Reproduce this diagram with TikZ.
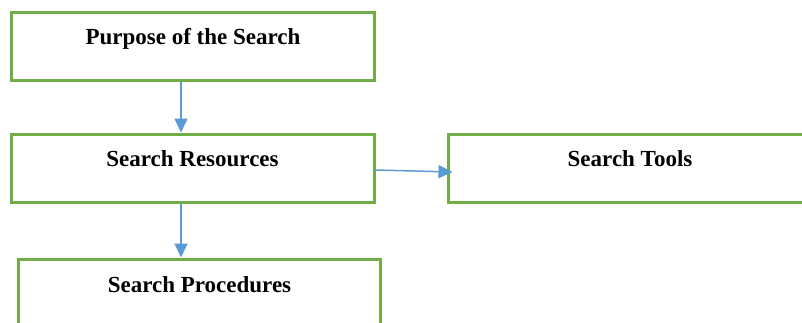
\documentclass[tikz,border=0pt]{standalone}
\usepackage{fontspec}
\setmainfont{Liberation Serif}
\usetikzlibrary{arrows.meta}
\definecolor{boxgreen}{HTML}{70AD47}
\definecolor{arrblue}{HTML}{5B9BD5}
\tikzset{
  box/.style={draw=boxgreen, line width=3pt, rectangle, inner sep=0pt, minimum height=68pt},
  lbl/.style={anchor=base, inner sep=0pt, font=\bfseries\fontsize{23}{27}\selectfont},
  arr/.style={draw=arrblue, line width=1.5pt, -{Triangle[length=14pt,width=13pt]}}
}
\begin{document}
\begin{tikzpicture}[x=1pt,y=-1pt]
\useasboundingbox (0,0) rectangle (802,322);
\clip (0,0) rectangle (802,322);
\fill[white] (0,0) rectangle (802,322);
\node[box, minimum width=363pt] (b1) at (192.5,46) {};
\node[box, minimum width=363pt] (b2) at (192.5,168) {};
\node[box, minimum width=358pt] (b3) at (627,168) {};
\node[box, minimum width=362pt] (b4) at (199,293) {};
\node[lbl] (t1) at (193,44) {Purpose of the Search};
\node[lbl] (t2) at (192.5,166) {Search Resources};
\node[lbl] (t3) at (630,166) {Search Tools};
\node[lbl] (t4) at (199.5,292) {Search Procedures};
\coordinate (ax) at (181,0);
\draw[arr] (ax |- b1.south) -- (ax |- b2.north);
\draw[arr] (ax |- b2.south) -- (ax |- b4.north);
\draw[arr] ([yshift=-2pt]b2.east) -- ([yshift=-4pt,xshift=6pt]b3.west);
\end{tikzpicture}
\end{document}
